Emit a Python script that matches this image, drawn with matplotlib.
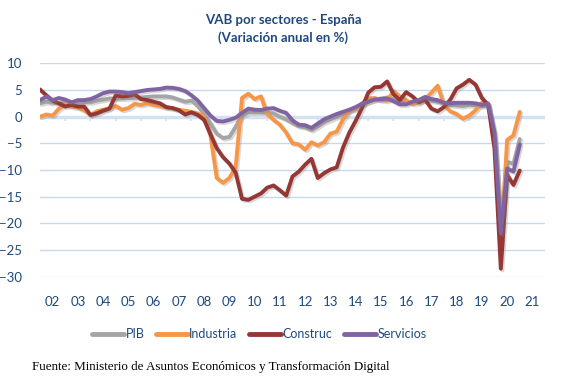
import numpy as np
import matplotlib
matplotlib.use('Agg')
import matplotlib.pyplot as plt
import matplotlib.patheffects as pe

# trimestres 2002T1 .. 2021T1
years = list(range(2002, 2022))
year_labels = [f'{y % 100:02d}' for y in range(2002, 2022)]

pib = [2.5, 2.8, 2.6, 2.5, 2.6, 2.5, 2.6, 2.7, 2.7, 3.0, 3.2, 3.4, 3.4, 3.4, 3.5, 3.5,
       3.6, 3.7, 3.8, 3.8, 3.8, 3.6, 3.2, 2.8, 3.0, 2.0, 0.5, -1.3, -3.2, -4.0, -3.8, -1.9,
       0.2, 0.8, 0.8, 0.8, 0.7, 0.6, 0.0, -0.5, -1.2, -1.8, -2.0, -2.5, -1.8, -1.0, -0.5, 0.0,
       0.5, 1.1, 1.6, 2.2, 2.8, 3.2, 3.4, 3.6, 3.2, 2.8, 2.7, 2.8, 2.9, 3.2, 3.0, 2.8,
       2.4, 2.2, 2.1, 2.0, 2.2, 2.1, 2.0, 2.0, -3.5, -21.5, -8.5, -8.8, -4.2]
industria = [0.0, 0.4, 0.2, 1.5, 2.3, 1.9, 1.7, 1.2, 0.3, 1.0, 1.3, 1.6, 2.0, 1.3, 1.6, 2.4,
             2.2, 2.5, 2.2, 2.0, 1.7, 1.6, 1.3, 1.1, 0.9, 0.6, 0.0, -3.5, -11.5, -12.4, -11.5, -9.5,
             3.5, 4.3, 3.3, 3.8, 0.5, -0.6, -1.5, -3.0, -5.0, -5.2, -6.2, -4.8, -5.4, -4.8, -3.2, -2.8,
             -0.5, 1.2, 1.5, 2.5, 3.4, 3.5, 3.1, 3.0, 4.8, 3.8, 3.1, 2.4, 2.6, 3.3, 4.5, 5.8,
             2.2, 1.0, 0.5, -0.4, 0.2, 1.2, 2.6, 2.5, -4.5, -24.0, -4.4, -3.5, 0.9]
construc = [5.1, 4.0, 3.0, 2.5, 1.9, 2.2, 1.9, 1.9, 0.3, 0.6, 1.1, 1.5, 4.0, 3.8, 3.9, 4.2,
            3.3, 3.1, 2.8, 2.5, 1.8, 1.6, 1.2, 0.4, 0.8, 0.3, -0.6, -3.3, -5.9, -7.6, -8.8, -10.5,
            -15.4, -15.6, -15.0, -14.4, -13.3, -12.9, -13.8, -14.8, -11.2, -10.3, -9.0, -7.9, -11.5, -10.6, -9.9, -9.5,
            -5.8, -3.0, -0.8, 1.6, 4.5, 5.5, 5.6, 6.6, 4.2, 3.1, 4.6, 3.8, 2.7, 3.2, 1.5, 1.0,
            1.8, 3.2, 5.3, 6.0, 6.9, 6.0, 3.5, 2.2, -6.0, -28.5, -10.9, -12.8, -10.1]
servicios = [3.1, 3.75, 3.1, 3.5, 3.2, 2.7, 3.1, 3.1, 3.3, 3.8, 4.4, 4.7, 4.7, 4.6, 4.4, 4.6,
             4.8, 5.0, 5.1, 5.2, 5.45, 5.4, 5.2, 4.8, 4.0, 3.0, 1.6, 0.2, -0.8, -0.9, -0.6, -0.2,
             0.7, 1.5, 1.3, 1.25, 1.5, 1.6, 1.1, 0.7, -0.7, -1.5, -1.6, -2.1, -1.3, -0.5, 0.0, 0.5,
             0.9, 1.3, 1.8, 2.4, 2.8, 3.2, 3.3, 3.4, 2.9, 2.3, 2.3, 2.8, 3.1, 3.7, 3.3, 3.1,
             2.6, 2.5, 2.6, 2.6, 2.6, 2.5, 2.2, 2.4, -3.0, -21.9, -9.7, -10.3, -5.2]

series = [('PIB', pib, '#A5A5A5'),
          ('Industria', industria, '#F79646'),
          ('Construc', construc, '#953735'),
          ('Servicios', servicios, '#8064A2')]

t = 2002 + np.arange(len(pib)) / 4

blue = '#1F497D'
plt.rcParams['font.family'] = ['Lato', 'DejaVu Sans']

fig = plt.figure(figsize=(5.67, 3.82), dpi=100)
ax = fig.add_axes([40 / 567, 1 - 276.7 / 382, 505 / 567, 213.4 / 382])

shadow = [pe.SimpleLineShadow(offset=(1.2, -1.2), shadow_color='#808080', alpha=0.3), pe.Normal()]
for name, vals, col in series:
    ax.plot(t, vals, color=col, lw=2.8, label=name, solid_joinstyle='round',
            solid_capstyle='round', path_effects=shadow, zorder=3)

ax.set_xlim(2002, 2022)
ax.set_ylim(-30, 10)
ax.set_yticks(range(-30, 11, 5))
ax.yaxis.grid(True, color='#C6D9F1', lw=1)
ax.set_axisbelow(True)
ax.axhline(0, color='#D3E1F3', lw=2.5, zorder=1)
ax.vlines(years[1:], -0.8, 0, color='#D3E1F3', lw=1.2, zorder=1)

ax.set_xticks([y + 0.5 for y in years])
ax.set_xticklabels(year_labels)
ax.tick_params(axis='both', length=0, labelsize=9.5, labelcolor=blue)
ax.tick_params(axis='x', pad=14)
ax.tick_params(axis='y', pad=13)
for s in ax.spines.values():
    s.set_visible(False)

fig.text(0.5, 1 - 20 / 382, 'VAB por sectores - España', ha='center', va='center',
         fontsize=9.5, fontweight='bold', color=blue)
fig.text(0.5, 1 - 38 / 382, '(Variación anual en %)', ha='center', va='center',
         fontsize=9.5, fontweight='bold', color=blue)

leg = fig.legend(loc='center', bbox_to_anchor=(0.457, 1 - 334 / 382), ncol=4, frameon=False,
                 fontsize=9, handlelength=2.6, handletextpad=0.1, columnspacing=0.9)
for line in leg.get_lines():
    line.set_linewidth(3.5)
    line.set_path_effects([])
for txt in leg.get_texts():
    txt.set_color(blue)

fig.text(32 / 567, 1 - 367 / 382, 'Fuente: Ministerio de Asuntos Económicos y Transformación Digital',
         ha='left', va='center', fontsize=9.4, family='Liberation Serif', color='black')

fig.savefig('out.png', dpi=100)
